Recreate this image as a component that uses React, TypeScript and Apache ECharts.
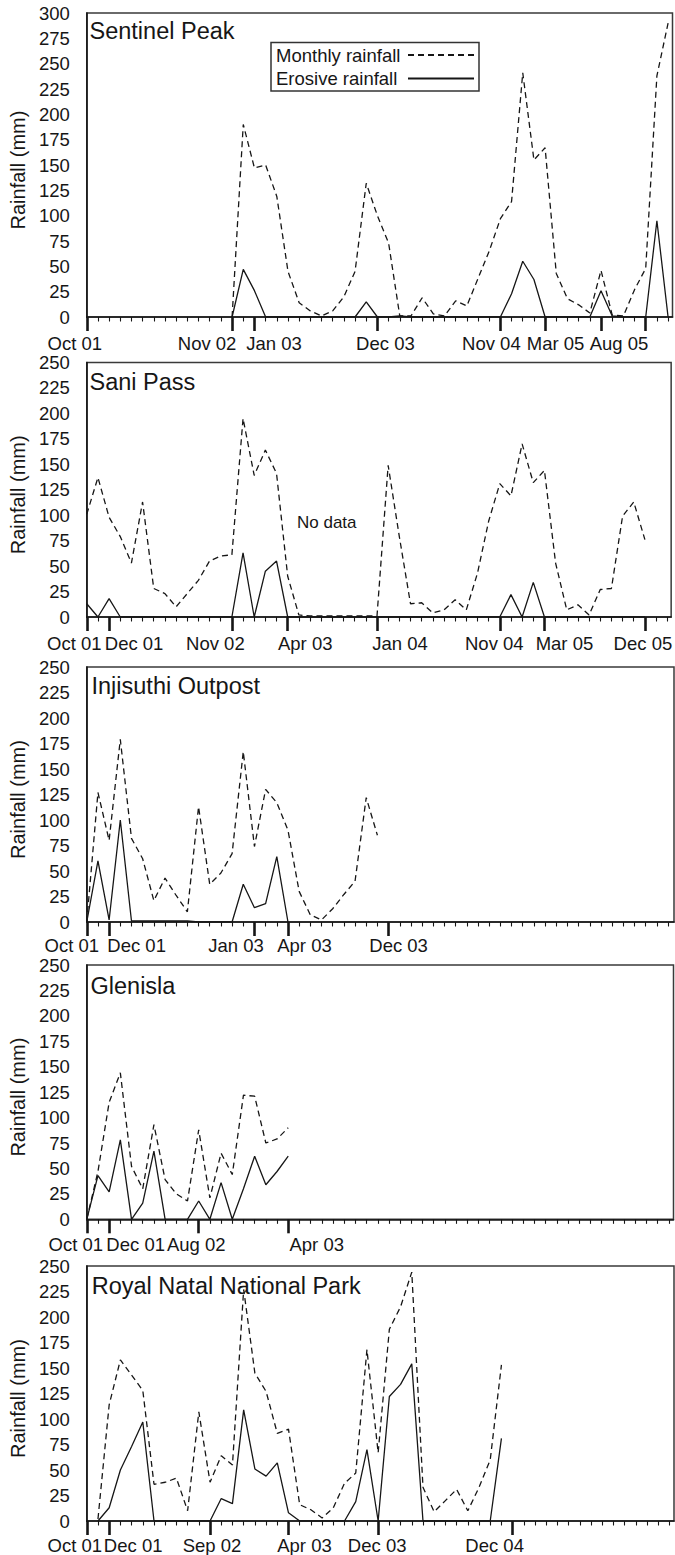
import React, { useEffect, useRef } from 'react';
import * as echarts from 'echarts';

const FONT = '"Liberation Sans", Arial, Helvetica, sans-serif';
const INK = '#161616';

// ---------- data (month index 0 = Oct 01) ----------
const allMonths = Array.from({ length: 53 }, (_, i) => i);

// Sentinel Peak: first value at month 13 (Nov 02)
const sentinelStart = 13;
const sentinelMonthly = [0, 190, 147, 150, 119, 45, 14, 6, 1, 6, 20, 45, 132, 100, 73, 1, 1, 19, 3, 1, 16, 11, 38, 65, 97, 114, 241, 155, 167, 43, 18, 12, 4, 46, 2, 1, 27, 48, 238, 290];
const sentinelErosive = [0, 47, 26, 0, 0, 0, 0, 0, 0, 0, 0, 0, 15, 0, 0, 1, 0, 0, 0, 0, 0, 0, 0, 0, 0, 23, 55, 37, 0, 0, 0, 0, 0, 26, 1, 0, 0, 0, 95, 0];
const sentinelTicks = [0, 13, 15, 26, 37, 41, 46, 50];
const sentinelTickLabels = ['Oct 01', 'Nov 02', 'Jan 03', 'Dec 03', 'Nov 04', 'Mar 05', 'Aug 05', ''];

// Sani Pass: first value at month 0
const saniStart = 0;
const saniMonthly = [101, 137, 98, 79, 53, 113, 28, 23, 10, 23, 36, 55, 60, 61, 195, 139, 164, 141, 40, 2, 1, 1, 1, 1, 1, 1, 1, 149, 79, 13, 14, 4, 7, 17, 7, 43, 94, 131, 119, 170, 132, 144, 53, 7, 12, 2, 27, 28, 99, 113, 76];
const saniErosive = [13, 0, 18, 0, 0, 0, 0, 0, 0, 0, 0, 0, 0, 0, 63, 0, 45, 55, 0, 0, 0, 0, 0, 0, 0, 0, 0, 0, 0, 0, 0, 0, 0, 0, 0, 0, 0, 0, 22, 0, 34, 0, 0, 0, 0, 0, 0, 0, 0, 0, 0];
const saniTicks = [0, 2, 13, 18, 26, 37, 41, 50];
const saniTickLabels = ['Oct 01', 'Dec 01', 'Nov 02', 'Apr 03', 'Jan 04', 'Nov 04', 'Mar 05', 'Dec 05'];

// Injisuthi Outpost
const injisuthiStart = 0;
const injisuthiMonthly = [0, 127, 80, 179, 82, 62, 21, 43, 26, 10, 113, 37, 48, 67, 167, 74, 130, 117, 90, 30, 7, 2, 13, 27, 40, 122, 85];
const injisuthiErosive = [0, 60, 2, 100, 1, 1, 1, 1, 1, 1, 0, 0, 0, 0, 37, 14, 18, 64, 0];
const injisuthiTicks = [0, 2, 15, 18, 27];
const injisuthiTickLabels = ['Oct 01', 'Dec 01', 'Jan 03', 'Apr 03', 'Dec 03'];

// Glenisla
const glenislaStart = 0;
const glenislaMonthly = [0, 47, 115, 144, 52, 30, 93, 39, 25, 18, 88, 21, 65, 44, 122, 121, 75, 79, 90];
const glenislaErosive = [0, 43, 27, 78, 0, 16, 67, 0, 0, 0, 18, 0, 36, 0, 30, 62, 34, 47, 62];
const glenislaTicks = [0, 2, 10, 18];
const glenislaTickLabels = ['Oct 01', 'Dec 01', 'Aug 02', 'Apr 03'];

// Royal Natal National Park: first value at month 1
const natalStart = 1;
const natalMonthly = [2, 114, 158, 143, 128, 36, 38, 42, 10, 107, 38, 64, 55, 227, 145, 127, 86, 90, 16, 11, 3, 13, 37, 47, 168, 67, 188, 210, 244, 33, 9, 20, 31, 10, 33, 60, 153];
const natalErosive = [0, 13, 50, 73, 97, 0, 0, 0, 0, 0, 0, 22, 17, 109, 51, 44, 57, 8, 0, 0, 0, 0, 0, 19, 70, 0, 122, 134, 154, 0, 0, 0, 0, 0, 0, 0, 81];
const natalTicks = [0, 2, 11, 18, 26, 38];
const natalTickLabels = ['Oct 01', 'Dec 01', 'Sep 02', 'Apr 03', 'Dec 03', 'Dec 04'];

const yTitle = 'Rainfall (mm)';
const monthlyName = 'Monthly rainfall';
const erosiveName = 'Erosive rainfall';

// ---------- layout (pixels) ----------
const panels = [
  { name: 'Sentinel Peak', start: sentinelStart, monthly: sentinelMonthly, erosive: sentinelErosive, ticks: sentinelTicks, labels: sentinelTickLabels, yMax: 300,
    left: 82, top: 13, width: 590.5, height: 304, monthPx: 11.27, labelMargin: 17, titleX: 89.5, titleY: 18.5, shifts: [-12, -25, 19.5, 8, -9, 10.5, 18, 0] },
  { name: 'Sani Pass', start: saniStart, monthly: saniMonthly, erosive: saniErosive, ticks: saniTicks, labels: saniTickLabels, yMax: 250,
    left: 82, top: 362.5, width: 590, height: 254.5, monthPx: 11.27, labelMargin: 17, titleX: 89.5, titleY: 370, shifts: [-12.5, 25, -16.5, 17.5, 23, -5.5, 20, -2] },
  { name: 'Injisuthi Outpost', start: injisuthiStart, monthly: injisuthiMonthly, erosive: injisuthiErosive, ticks: injisuthiTicks, labels: injisuthiTickLabels, yMax: 250,
    left: 83, top: 667, width: 591, height: 255, monthPx: 11.25, labelMargin: 14, titleX: 91.5, titleY: 673.5, shifts: [-15, 27.5, -18.5, 16.5, 10] },
  { name: 'Glenisla', start: glenislaStart, monthly: glenislaMonthly, erosive: glenislaErosive, ticks: glenislaTicks, labels: glenislaTickLabels, yMax: 250,
    left: 82.7, top: 965, width: 590.8, height: 254.3, monthPx: 11.27, labelMargin: 16, titleX: 90.5, titleY: 973.5, shifts: [-11, 26.5, -2.4, 28.5] },
  { name: 'Royal Natal National Park', start: natalStart, monthly: natalMonthly, erosive: natalErosive, ticks: natalTicks, labels: natalTickLabels, yMax: 250,
    left: 84, top: 1266, width: 590, height: 255, monthPx: 11.26, labelMargin: 14.5, titleX: 91.7, titleY: 1273.5, shifts: [-12, 24, 2, 16, -1, -18] },
];

function toPoints(start: number, vals: number[]) {
  return vals.map((v, i) => [start + i, v]);
}

function buildOption() {
  const grid: any[] = [];
  const xAxis: any[] = [];
  const yAxis: any[] = [];
  const series: any[] = [];
  const title: any[] = [];

  panels.forEach((p, i) => {
    grid.push({ left: p.left, top: p.top, width: p.width, height: p.height, show: true, borderColor: '#3a3a3a', borderWidth: 1.5, containLabel: false });
    const xMax = p.width / p.monthPx;
    xAxis.push({
      type: 'value', gridIndex: i, position: 'bottom', min: 0, max: xMax, interval: 1,
      axisLine: { show: true, onZero: false, lineStyle: { color: INK, width: 1.6 } },
      axisTick: { show: true, customValues: allMonths, length: 4.5, lineStyle: { color: INK, width: 1.1 } },
      axisLabel: { show: false },
      splitLine: { show: false },
    });
    const rich: any = {};
    p.labels.forEach((t, j) => {
      const d = p.shifts[j] || 0;
      rich['l' + j] = { fontSize: 18.5, fontFamily: FONT, color: INK, padding: d >= 0 ? [0, 0, 0, 2 * d] : [0, -2 * d, 0, 0] };
    });
    xAxis.push({
      type: 'value', gridIndex: i, position: 'bottom', min: 0, max: xMax,
      axisLine: { show: false, onZero: false },
      axisTick: { show: true, customValues: p.ticks, length: 14, lineStyle: { color: INK, width: 2.6 } },
      axisLabel: {
        show: true, customValues: p.ticks, margin: p.labelMargin, showMinLabel: true, showMaxLabel: true,
        fontSize: 18.5, fontFamily: FONT, color: INK, rich,
        formatter: (v: number) => {
          const j = p.ticks.indexOf(Math.round(v));
          return j >= 0 && p.labels[j] ? `{l${j}|${p.labels[j]}}` : '';
        },
      },
      splitLine: { show: false },
    });
    yAxis.push({
      type: 'value', gridIndex: i, position: 'left', min: 0, max: p.yMax, interval: 25,
      axisLine: { show: true, lineStyle: { color: INK, width: 1.6 } },
      axisTick: { show: false },
      axisLabel: { fontSize: 18.5, fontFamily: FONT, color: INK, margin: 17 },
      splitLine: { show: false },
      name: yTitle, nameLocation: 'middle', nameRotate: 90, nameGap: 50,
      nameTextStyle: { fontSize: 20, fontFamily: FONT, color: INK, padding: [0, 10, 0, 0] },
    });
    series.push({
      type: 'line', name: monthlyName, xAxisIndex: 2 * i, yAxisIndex: i, data: toPoints(p.start, p.monthly),
      symbol: 'none', showSymbol: false, lineStyle: { color: INK, width: 1.3, type: [6, 4] }, itemStyle: { color: INK },
    });
    series.push({
      type: 'line', name: erosiveName, xAxisIndex: 2 * i, yAxisIndex: i, data: toPoints(p.start, p.erosive),
      symbol: 'none', showSymbol: false, lineStyle: { color: INK, width: 1.3, type: 'solid' }, itemStyle: { color: INK },
    });
    title.push({
      text: p.name, left: p.titleX, top: p.titleY, padding: 0,
      textStyle: { fontSize: 23.5, fontWeight: 'normal', fontFamily: FONT, color: INK, lineHeight: 24 },
    });
  });

  return {
    animation: false,
    backgroundColor: '#ffffff',
    textStyle: { fontFamily: FONT },
    title,
    legend: {
      data: [monthlyName, erosiveName], orient: 'vertical', left: 271, top: 42.5, align: 'right',
      itemWidth: 66, itemHeight: 14, itemGap: 4.5, padding: [3, 4, 3, 5],
      borderColor: '#333', borderWidth: 1.5, selectedMode: false,
      itemStyle: { color: 'rgba(0,0,0,0)', borderColor: 'rgba(0,0,0,0)', borderWidth: 0 },
      formatter: (name: string) => `{t|${name}}`,
      textStyle: {
        fontSize: 18.5, fontFamily: FONT, color: INK, lineHeight: 19,
        rich: { t: { fontSize: 18.5, fontFamily: FONT, color: INK, lineHeight: 19, width: 127, align: 'left' } },
      },
    },
    grid, xAxis, yAxis, series,
    graphic: [
      { type: 'text', left: 297, top: 514, style: { text: 'No data', fontSize: 17, fontFamily: FONT, fill: INK } },
    ],
  };
}

export default function App() {
  const ref = useRef<HTMLDivElement>(null);
  useEffect(() => {
    document.body.style.margin = '0';
    if (!ref.current) return;
    const chart = echarts.init(ref.current, undefined, { renderer: 'svg' });
    chart.setOption(buildOption() as any);
    return () => chart.dispose();
  }, []);
  return <div ref={ref} style={{ width: 675, height: 1555, background: '#fff' }} />;
}
